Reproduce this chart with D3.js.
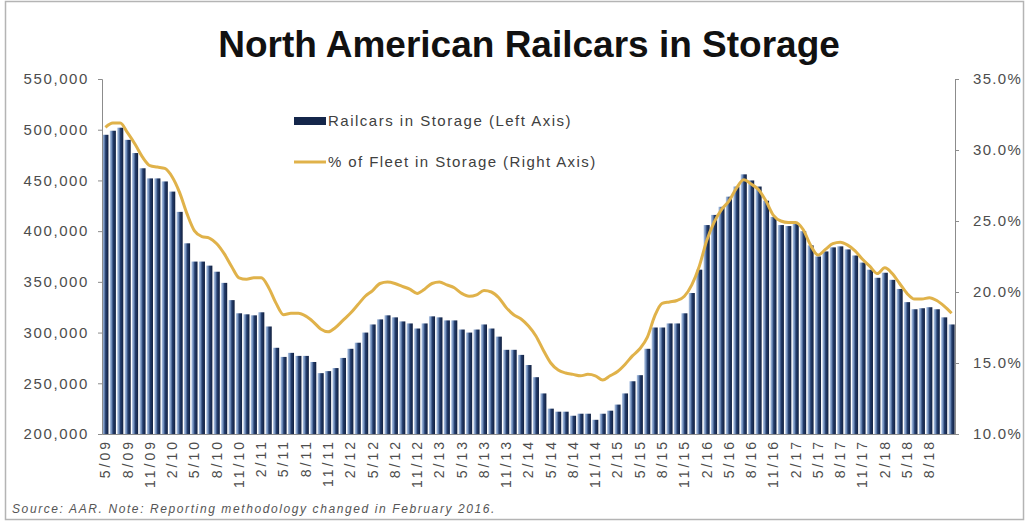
<!DOCTYPE html>
<html>
<head>
<meta charset="utf-8">
<script src="https://cdn.jsdelivr.net/npm/d3@7"></script>
<style>
  html, body { margin: 0; padding: 0; background: #fff; }
  svg { display: block; font-family: "Liberation Sans", Arial, sans-serif; }
</style>
</head>
<body>
<svg id="chart" width="1029" height="522"></svg>
<script>
// Monthly periods, May 2009 through November 2018
const months = [
  "5/09","6/09","7/09","8/09","9/09","10/09","11/09","12/09",
  "1/10","2/10","3/10","4/10","5/10","6/10","7/10","8/10","9/10","10/10","11/10","12/10",
  "1/11","2/11","3/11","4/11","5/11","6/11","7/11","8/11","9/11","10/11","11/11","12/11",
  "1/12","2/12","3/12","4/12","5/12","6/12","7/12","8/12","9/12","10/12","11/12","12/12",
  "1/13","2/13","3/13","4/13","5/13","6/13","7/13","8/13","9/13","10/13","11/13","12/13",
  "1/14","2/14","3/14","4/14","5/14","6/14","7/14","8/14","9/14","10/14","11/14","12/14",
  "1/15","2/15","3/15","4/15","5/15","6/15","7/15","8/15","9/15","10/15","11/15","12/15",
  "1/16","2/16","3/16","4/16","5/16","6/16","7/16","8/16","9/16","10/16","11/16","12/16",
  "1/17","2/17","3/17","4/17","5/17","6/17","7/17","8/17","9/17","10/17","11/17","12/17",
  "1/18","2/18","3/18","4/18","5/18","6/18","7/18","8/18","9/18","10/18","11/18"
];

// Railcars in storage (left axis)
const railcars = [
  495000, 499000, 502000, 490000, 477000, 462000, 452000, 452000, 449000, 439000,
  419000, 388000, 370000, 370000, 366000, 360000, 349000, 332000, 319000, 318000,
  317000, 320000, 306000, 285000, 276000, 280000, 277000, 277000, 271000, 260000,
  262000, 265000, 275000, 284000, 290000, 300000, 308000, 313000, 317000, 315000,
  311000, 309000, 304000, 309000, 316000, 315000, 312000, 312000, 303000, 300000,
  303000, 308000, 304000, 296000, 283000, 283000, 278000, 268000, 256000, 240000,
  225000, 222000, 222000, 218000, 220000, 220000, 214000, 220000, 223000, 229000,
  240000, 252000, 258000, 284000, 305000, 305000, 309000, 309000, 319000, 339000,
  362000, 406000, 416000, 424000, 434000, 444000, 456000, 450000, 444000, 430000,
  414000, 406000, 405000, 407000, 400000, 386000, 375000, 380000, 384000, 385000,
  382000, 376000, 369000, 362000, 354000, 359000, 352000, 343000, 330000, 323000,
  324000, 325000, 323000, 315000, 308000
];

// Share of the fleet in storage, percent (right axis)
const fleetPct = [
  31.6, 31.9, 31.9, 31.2, 30.4, 29.5, 28.9, 28.8, 28.7, 28.1,
  27.0, 25.5, 24.3, 23.9, 23.8, 23.4, 22.7, 21.8, 21.0, 20.9,
  21.0, 21.0, 20.3, 19.2, 18.4, 18.5, 18.5, 18.3, 17.9, 17.4,
  17.2, 17.5, 18.0, 18.5, 19.1, 19.7, 20.1, 20.6, 20.7, 20.6,
  20.4, 20.2, 19.9, 20.2, 20.6, 20.7, 20.5, 20.3, 19.9, 19.7,
  19.8, 20.1, 20.0, 19.6, 18.9, 18.4, 18.1, 17.6, 16.9, 15.9,
  15.0, 14.5, 14.3, 14.2, 14.1, 14.2, 14.1, 13.8, 14.1, 14.4,
  14.9, 15.5, 16.0, 16.8, 18.3, 19.2, 19.3, 19.4, 19.7, 20.5,
  21.8, 23.6, 24.9, 25.8, 26.4, 27.3, 27.9, 27.6, 27.2, 26.4,
  25.4, 25.0, 24.9, 24.9, 24.4, 23.3, 22.6, 23.0, 23.4, 23.5,
  23.3, 22.9, 22.3, 21.8, 21.3, 21.7, 21.3, 20.6, 19.9, 19.5,
  19.5, 19.6, 19.4, 19.0, 18.5
];

// Quarterly axis labels
const xTickLabels = [
  "5/09","8/09","11/09","2/10","5/10","8/10","11/10","2/11","5/11","8/11",
  "11/11","2/12","5/12","8/12","11/12","2/13","5/13","8/13","11/13","2/14",
  "5/14","8/14","11/14","2/15","5/15","8/15","11/15","2/16","5/16","8/16",
  "11/16","2/17","5/17","8/17","11/17","2/18","5/18","8/18"
];
const leftTicks = [200000, 250000, 300000, 350000, 400000, 450000, 500000, 550000];
const rightTicks = [10, 15, 20, 25, 30, 35];

const seriesNames = ["Railcars in Storage (Left Axis)", "% of Fleet in Storage (Right Axis)"];
const titleText = "North American Railcars in Storage";
const sourceText = "Source: AAR. Note: Reporting methodology changed in February 2016.";

const svg = d3.select("#chart");
const W = 1029, H = 522;
const plot = { left: 102, right: 955, top: 79, bottom: 434 };

// frame
svg.append("rect")
  .attr("x", 5.5).attr("y", 1.5)
  .attr("width", W - 11).attr("height", H - 4)
  .attr("fill", "#fff").attr("stroke", "#b4b4b4").attr("stroke-width", 1.5);

// bar gradient
const defs = svg.append("defs");
const grad = defs.append("linearGradient").attr("id", "barGrad")
  .attr("x1", "0%").attr("x2", "100%").attr("y1", "0%").attr("y2", "0%");
[["0%", "#b7cae6"], ["30%", "#6f8dbb"], ["55%", "#233c6b"], ["100%", "#111f3d"]]
  .forEach(([o, c]) => grad.append("stop").attr("offset", o).attr("stop-color", c));

const x = d3.scaleBand()
  .domain(months)
  .range([plot.left, plot.right])
  .paddingInner(0.18)
  .paddingOuter(0.05);

const yL = d3.scaleLinear().domain([200000, 550000]).range([plot.bottom, plot.top]);
const yR = d3.scaleLinear().domain([10, 35]).range([plot.bottom, plot.top]);

// title
svg.append("text")
  .attr("x", 529).attr("y", 57)
  .attr("text-anchor", "middle")
  .attr("font-size", 37).attr("font-weight", "bold")
  .attr("fill", "#111")
  .text(titleText);

// bars
svg.append("g").selectAll("rect")
  .data(railcars)
  .join("rect")
  .attr("x", (d, i) => x(months[i]))
  .attr("width", x.bandwidth())
  .attr("y", d => yL(d))
  .attr("height", d => yL(200000) - yL(d))
  .attr("fill", "url(#barGrad)");

// percent line
const line = d3.line()
  .x((d, i) => x(months[i]) + x.bandwidth() / 2)
  .y(d => yR(d))
  .curve(d3.curveMonotoneX);

svg.append("path")
  .datum(fleetPct)
  .attr("d", line)
  .attr("fill", "none")
  .attr("stroke", "#e0b24a")
  .attr("stroke-width", 3)
  .attr("stroke-linejoin", "round");

// left axis
const leftAxis = d3.axisLeft(yL)
  .tickValues(leftTicks)
  .tickFormat(d3.format(","))
  .tickSize(4).tickPadding(9);
const gL = svg.append("g").attr("transform", `translate(${plot.left},0)`).call(leftAxis);
gL.select(".domain").attr("stroke", "#8c8c8c");
gL.selectAll(".tick line").attr("stroke", "#8c8c8c");
gL.selectAll("text")
  .attr("font-size", 15).attr("fill", "#4d4d4d")
  .attr("letter-spacing", "1.6px")
  .attr("font-family", "'Liberation Sans', Arial, sans-serif");

// right axis
const rightAxis = d3.axisRight(yR)
  .tickValues(rightTicks)
  .tickFormat(d => d.toFixed(1) + "%")
  .tickSize(4).tickPadding(14);
const gR = svg.append("g").attr("transform", `translate(${plot.right},0)`).call(rightAxis);
gR.select(".domain").attr("stroke", "#8c8c8c");
gR.selectAll(".tick line").attr("stroke", "#8c8c8c");
gR.selectAll("text")
  .attr("font-size", 15).attr("fill", "#4d4d4d")
  .attr("letter-spacing", "1.3px")
  .attr("font-family", "'Liberation Sans', Arial, sans-serif");

// bottom axis with quarterly rotated labels
const bottomAxis = d3.axisBottom(x)
  .tickValues(xTickLabels)
  .tickSize(0).tickPadding(0);
const gB = svg.append("g").attr("transform", `translate(0,${plot.bottom})`).call(bottomAxis);
gB.select(".domain").attr("stroke", "#8c8c8c");
gB.selectAll("text")
  .attr("font-size", 14).attr("fill", "#4d4d4d")
  .attr("letter-spacing", "3px")
  .attr("font-family", "'Liberation Sans', Arial, sans-serif")
  .attr("text-anchor", "end")
  .attr("transform", "translate(0,5) rotate(-90)")
  .attr("dx", 0).attr("dy", "0.35em").attr("y", 0).attr("x", 0);

// legend
const legend = svg.append("g");
legend.append("rect")
  .attr("x", 294).attr("y", 117).attr("width", 32).attr("height", 8)
  .attr("fill", "#14264a");
legend.append("text")
  .attr("x", 328).attr("y", 126)
  .attr("font-size", 15).attr("fill", "#404040").attr("letter-spacing", "1.5px")
  .text(seriesNames[0]);
legend.append("line")
  .attr("x1", 294).attr("x2", 326).attr("y1", 162).attr("y2", 162)
  .attr("stroke", "#e0b24a").attr("stroke-width", 3);
legend.append("text")
  .attr("x", 328).attr("y", 167)
  .attr("font-size", 15).attr("fill", "#404040").attr("letter-spacing", "1.4px")
  .text(seriesNames[1]);

// source note
svg.append("text")
  .attr("x", 12).attr("y", 513)
  .attr("font-size", 12).attr("font-style", "italic")
  .attr("fill", "#555").attr("letter-spacing", "1.6px")
  .text(sourceText);
</script>
</body>
</html>
